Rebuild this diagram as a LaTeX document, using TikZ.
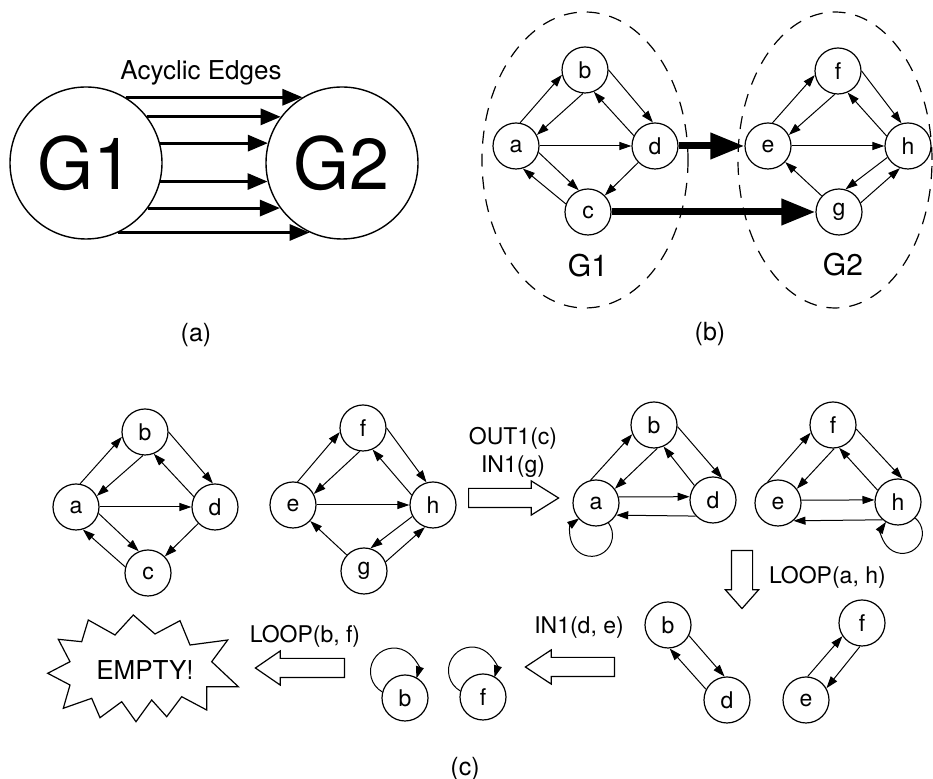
\documentclass[tikz,border=0pt]{standalone}
\usepackage{fontspec}
\setmainfont{TeX Gyre Heros}
\usetikzlibrary{arrows.meta,shapes.arrows,positioning}

\tikzset{
  vtx/.style={circle, draw, line width=0.6pt, minimum size=23pt, inner sep=0pt, font=\fontsize{11.5}{13}\selectfont},
  big/.style={circle, draw, line width=0.7pt, minimum size=76pt, inner sep=0pt, font=\fontsize{36}{40}\selectfont},
  edg/.style={-{Triangle[length=6pt,width=4pt]}, line width=0.5pt},
  heavy/.style={-{Triangle[length=17pt,width=12.5pt]}, line width=3.5pt},
  acyc/.style={-{Triangle[length=10pt,width=8pt]}, line width=1.5pt},
  grp/.style={dash pattern=on 6.5pt off 5pt, line width=0.6pt},
  blk/.style={single arrow, draw, line width=0.6pt, inner xsep=0pt, inner ysep=4.5pt, single arrow head extend=3.75pt, anchor=tail},
  lbl/.style={font=\fontsize{11.5}{14}\selectfont},
  panel/.style={font=\fontsize{12.5}{14}\selectfont}
}

\begin{document}
\begin{tikzpicture}[x=0.5pt, y=0.5pt]
\useasboundingbox (0,0) rectangle (933,-779);

% (a)
\node[big] (G1) at (86,-163) {G1};
\node[big] (G2) at (342,-163) {G2};
\foreach \s/\t in {59/121, 37/143, 15/165, -14/-166, -36/-144, -65/-115}
  \draw[acyc] (G1.\s) -- (G2.\t);
\node[font=\fontsize{13}{15}\selectfont] (acl) at (201,-73) {Acyclic Edges};
\node[panel] (capa) at (196,-335) {(a)};

% (b)
\draw[grp] (585,-160) ellipse [x radius=103, y radius=148];
\draw[grp] (835,-160) ellipse [x radius=97, y radius=148];
\node[vtx] (a) at (516,-146) {a};
\node[vtx] (b) at (585,-70) {b};
\node[vtx] (d) at (655,-146) {d};
\node[vtx] (c) at (588,-212) {c};
\node[vtx] (e) at (768,-146) {e};
\node[vtx] (f) at (838,-71) {f};
\node[vtx] (h) at (908,-146) {h};
\node[vtx] (g) at (839,-212) {g};
\draw[edg] (a.80) -- (b.192);
\draw[edg] (b.265) -- (a.28);
\draw[edg] (b.0) -- (d.95);
\draw[edg] (d.154) -- (b.292);
\draw[edg] (a) -- (d);
\draw[edg] (a.-16) -- (c.113);
\draw[edg] (c.160) -- (a.-73);
\draw[edg] (d) -- (c);
\draw[edg] (e.79) -- (f.190);
\draw[edg] (f.262) -- (e.28);
\draw[edg] (f.0) -- (h.106);
\draw[edg] (h.155) -- (f.294);
\draw[edg] (e) -- (h);
\draw[edg] (g) -- (e);
\draw[edg] (h.209) -- (g.74);
\draw[edg] (g.23) -- (h.250);
\draw[heavy] (d) -- (e);
\draw[heavy] (c) -- (g);
\node[font=\fontsize{15}{17}\selectfont] (g1l) at (588,-266) {G1};
\node[font=\fontsize{15}{17}\selectfont] (g2l) at (843,-265) {G2};
\node[panel] (capb) at (710,-334) {(b)};

% (c) start
\node[vtx] (a0) at (76,-507) {a};
\node[vtx] (b0) at (145,-432) {b};
\node[vtx] (d0) at (215,-507) {d};
\node[vtx] (c0) at (148,-573) {c};
\node[vtx] (e0) at (293,-505) {e};
\node[vtx] (f0) at (363,-428) {f};
\node[vtx] (h0) at (433,-505) {h};
\node[vtx] (g0) at (364,-571) {g};
\draw[edg] (a0.80) -- (b0.192);
\draw[edg] (b0.265) -- (a0.28);
\draw[edg] (b0.0) -- (d0.95);
\draw[edg] (d0.154) -- (b0.292);
\draw[edg] (a0) -- (d0);
\draw[edg] (a0.-16) -- (c0.113);
\draw[edg] (c0.165) -- (a0.-73);
\draw[edg] (d0) -- (c0);
\draw[edg] (e0.79) -- (f0.190);
\draw[edg] (f0.262) -- (e0.28);
\draw[edg] (f0.0) -- (h0.106);
\draw[edg] (h0.155) -- (f0.294);
\draw[edg] (e0) -- (h0);
\draw[edg] (g0) -- (e0);
\draw[edg] (h0.209) -- (g0.74);
\draw[edg] (g0.23) -- (h0.250);

\node[blk, minimum height=45pt, single arrow tip angle=64] (s1) at (468,-498) {};
\node[lbl, align=center] (s1l) at (513,-452) {OUT1(c)\\IN1(g)};

% (c) after OUT1/IN1
\node[vtx] (a1) at (596,-503) {a};
\node[vtx] (b1) at (654,-425) {b};
\node[vtx] (d1) at (713,-500) {d};
\node[vtx] (e1) at (778,-503) {e};
\node[vtx] (f1) at (833,-425) {f};
\node[vtx] (h1) at (898,-502) {h};
\draw[edg] (a1.103) -- (b1.203);
\draw[edg] (b1.-82) -- (a1.37);
\draw[edg] (b1.-4) -- (d1.67);
\draw[edg] (d1.142) -- (b1.-66);
\draw[edg] (a1.15) -- (d1.172);
\draw[edg] (d1.223) -- (a1.-31);
\draw[edg] (a1.-58) arc[start angle=36, end angle=-234, radius=21];
\draw[edg] (e1.116) -- (f1.199);
\draw[edg] (f1.-87) -- (e1.37);
\draw[edg] (f1.-10) -- (h1.79);
\draw[edg] (h1.150) -- (f1.-75);
\draw[edg] (e1.7) -- (h1.175);
\draw[edg] (h1.229) -- (e1.-49);
\draw[edg] (h1.-43) arc[start angle=50, end angle=-215, radius=20];

\node[blk, minimum height=29pt, inner ysep=5pt, single arrow head extend=3pt, single arrow tip angle=83, rotate=-90] (s2) at (742,-550) {};
\node[lbl, anchor=west] (s2l) at (762,-577) {LOOP(a, h)};

% (c) after LOOP(a, h)
\node[vtx] (b2) at (668,-625) {b};
\node[vtx] (d2) at (727,-700) {d};
\node[vtx] (e2) at (806,-700) {e};
\node[vtx] (f2) at (862,-623) {f};
\draw[edg] (b2.-27) -- (d2.96);
\draw[edg] (d2.153) -- (b2.274);
\draw[edg] (e2.86) -- (f2.214);
\draw[edg] (f2.265) -- (e2.30);

\node[blk, minimum height=44.5pt, single arrow tip angle=67, rotate=180] (s3) at (615,-667) {};
\node[lbl] (s3l) at (579,-628) {IN1(d, e)};

% (c) after IN1(d, e)
\node[vtx] (b3) at (405,-698) {b};
\node[vtx] (f3) at (483,-697) {f};
\draw[edg] (b3.165) arc[start angle=240, end angle=-17, radius=23.5];
\draw[edg] (f3.165) arc[start angle=240, end angle=-17, radius=23.5];

\node[blk, minimum height=44.5pt, single arrow tip angle=69, rotate=180] (s4) at (345,-668) {};
\node[lbl] (s4l) at (305,-636) {LOOP(b, f)};

\node[font=\fontsize{13}{15}\selectfont] (empty) at (145,-670) {EMPTY!};
\draw[line width=0.6pt] (47.7,-673.3) -- (70,-661.7) -- (58.3,-639.3) -- (81.7,-641.7)
  -- (88.3,-620) -- (115,-635) -- (133.3,-615) -- (155,-634) -- (180,-620.7)
  -- (190,-645) -- (227.7,-640) -- (211.7,-661.7) -- (238.3,-686.7) -- (206.7,-686.7)
  -- (206.7,-710) -- (181.7,-696.7) -- (166.7,-716.7) -- (151.7,-700) -- (136,-721.7)
  -- (121.7,-701.7) -- (100,-717.7) -- (91.7,-698.3) -- (63.3,-708.3) -- (70,-685) -- cycle;

\node[panel] (capc) at (465,-769) {(c)};
\end{tikzpicture}
\end{document}
